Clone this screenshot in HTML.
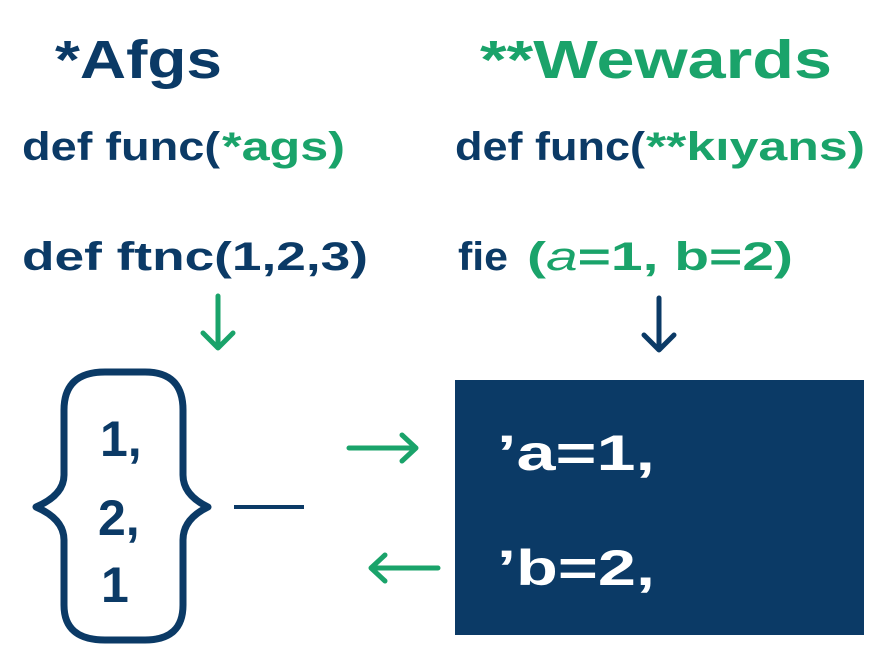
<!DOCTYPE html>
<html><head><meta charset="utf-8"><style>
html,body{margin:0;padding:0;background:#fff;}
svg{display:block;font-family:"Liberation Sans",sans-serif;font-weight:bold;}
</style></head><body>
<svg width="883" height="655" viewBox="0 0 883 655" xmlns="http://www.w3.org/2000/svg">
<g font-weight="bold">
<text x="55" y="78" font-size="54" fill="#0b3a66" textLength="167" lengthAdjust="spacingAndGlyphs">*Afgs</text>
<text x="480" y="78" font-size="54" fill="#1aa36a" textLength="352" lengthAdjust="spacingAndGlyphs">**Wewards</text>
<text x="22" y="160" font-size="40" fill="#0b3a66" textLength="198" lengthAdjust="spacingAndGlyphs">def func(</text>
<text x="222" y="160" font-size="40" fill="#1aa36a" textLength="123" lengthAdjust="spacingAndGlyphs">*ags)</text>
<text x="455" y="160" font-size="40" fill="#0b3a66" textLength="190" lengthAdjust="spacingAndGlyphs">def func(</text>
<text x="646" y="160" font-size="40" fill="#1aa36a" textLength="219" lengthAdjust="spacingAndGlyphs">**kıyans)</text>
<text x="22" y="270" font-size="40" fill="#0b3a66" textLength="346" lengthAdjust="spacingAndGlyphs">def ftnc(1,2,3)</text>
<text x="458" y="270" font-size="40" fill="#0b3a66" textLength="50" lengthAdjust="spacingAndGlyphs">fie</text>
<text x="527" y="270" font-size="40" fill="#1aa36a" textLength="266" lengthAdjust="spacingAndGlyphs">(<tspan font-style="italic" font-weight="normal">a</tspan>=1, b=2)</text>
</g>
<g fill="none" stroke-linecap="round" stroke-linejoin="round" stroke-width="5">
<path d="M218 296 V348 M203 333 L218 348 L233 333" stroke="#1aa36a"/>
<path d="M659 298 V350 M644 335 L659 350 L674 335" stroke="#0b3a66"/>
<path d="M349 448 H416 M402 435 L416 448 L402 461" stroke="#1aa36a"/>
<path d="M438 568 H371 M385 555 L371 568 L385 581" stroke="#1aa36a"/>
</g>
<path d="M105 372 H145 Q183 372 183 410 V475 Q183 495 208 507 Q183 519 183 540 V605 Q183 640 145 640 H105 Q64 640 64 605 V540 Q64 519 36 507 Q64 495 64 475 V410 Q64 372 105 372 Z" fill="none" stroke="#0b3a66" stroke-width="7" stroke-linejoin="round"/>
<line x1="234" y1="507" x2="304" y2="507" stroke="#0b3a66" stroke-width="4"/>
<g font-size="50" fill="#0b3a66" font-weight="bold">
<text x="100" y="456">1,</text>
<text x="98" y="535">2,</text>
<text x="101" y="602">1</text>
</g>
<rect x="455" y="380" width="409" height="255" fill="#0b3a66"/>
<g font-size="50" fill="#fff" font-weight="bold">
<text x="497" y="470" textLength="158" lengthAdjust="spacingAndGlyphs">ʼa=1,</text>
<text x="497" y="585" textLength="158" lengthAdjust="spacingAndGlyphs">ʼb=2,</text>
</g>
</svg>
</body></html>
